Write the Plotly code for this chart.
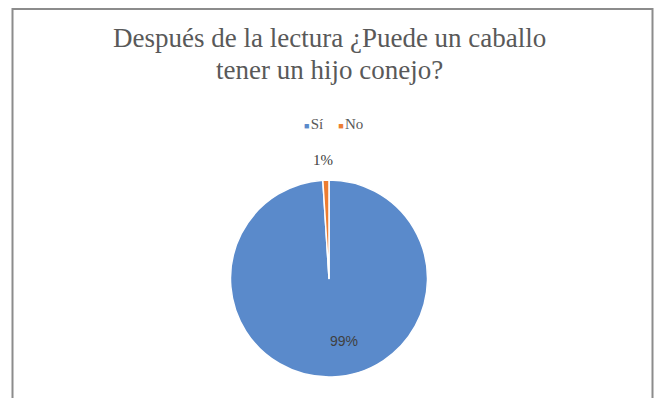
import plotly.graph_objects as go

# Survey answers
categories = ["Sí", "No"]
values = [99, 1]
colors = ["#5A8ACB", "#ED7D31"]

title_lines = ["Después de la lectura ¿Puede un caballo", "tener un hijo conejo?"]

W, H = 659, 398

# Pie geometry in pixels (center and radius), converted to a paper domain
cx, cy, r = 329, 278.5, 98.5
dom_x = [(cx - r) / W, (cx + r) / W]
dom_y = [(H - cy - r) / H, (H - cy + r) / H]

fig = go.Figure()
fig.add_trace(go.Pie(
    labels=categories,
    values=values,
    sort=False,
    direction="clockwise",
    rotation=0,
    marker=dict(colors=colors, line=dict(color="white", width=1.5)),
    textinfo="none",
    domain=dict(x=dom_x, y=dom_y),
    showlegend=False,
    hoverinfo="label+percent",
))

# Percentage data labels, computed from the values
total = sum(values)
label_pos = [(344, 341), (323, 160)]          # pixel anchors for each label
label_fonts = [
    dict(family="Liberation Sans, Arial, sans-serif", size=14, color="#404040"),
    dict(family="Liberation Serif, serif", size=15, color="#404040"),
]
for v, (px, py), f in zip(values, label_pos, label_fonts):
    fig.add_annotation(
        text=f"{round(100 * v / total)}%", x=px / W, y=1 - py / H,
        xref="paper", yref="paper", showarrow=False,
        xanchor="center", yanchor="middle", font=f,
    )

# Two-line chart title, one text line per annotation for tighter leading
title_font = dict(family="Liberation Serif, serif", size=27, color="#595959")
for line, py in zip(title_lines, [38, 70]):
    fig.add_annotation(
        text=line, x=329 / W, y=1 - py / H, xref="paper", yref="paper",
        showarrow=False, xanchor="center", yanchor="middle", font=title_font,
    )

# Legend row: small colored squares followed by the category names
legend_text = "\u00a0\u00a0\u00a0\u00a0".join(
    f"<span style='color:{c};font-size:9px'>■</span>\u200a{name}"
    for name, c in zip(categories, colors)
)
fig.add_annotation(
    text=legend_text, x=333 / W, y=1 - 124 / H, xref="paper", yref="paper",
    showarrow=False, xanchor="center", yanchor="middle",
    font=dict(family="Liberation Serif, serif", size=15, color="#595959"),
)

# Chart area border
fig.add_shape(type="rect", xref="paper", yref="paper",
              x0=12.5 / W, x1=652.5 / W, y0=-0.05, y1=1 - 9 / H,
              line=dict(color="#8C8C8C", width=2), fillcolor="rgba(0,0,0,0)")

fig.update_layout(
    width=W, height=H,
    margin=dict(l=0, r=0, t=0, b=0),
    paper_bgcolor="white", plot_bgcolor="white",
)

fig.write_html("out.html")
